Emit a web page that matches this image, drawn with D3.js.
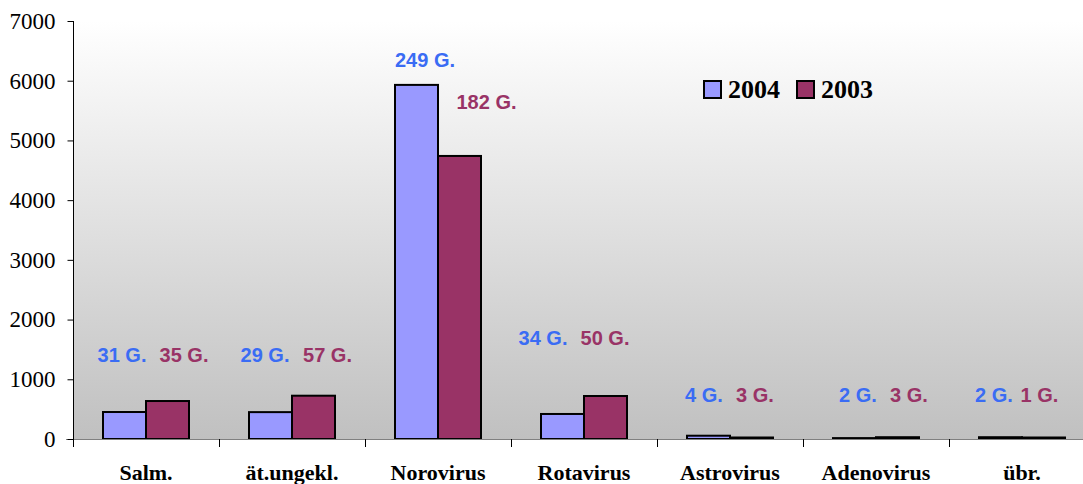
<!DOCTYPE html>
<html>
<head>
<meta charset="utf-8">
<script src="https://cdn.jsdelivr.net/npm/d3@7"></script>
<style>
  html, body { margin: 0; padding: 0; background: #fff; }
  svg { display: block; }
</style>
</head>
<body>
<svg id="chart" width="1083" height="484"></svg>
<script>
// Categories and series
const categories = ["Salm.", "ät.ungekl.", "Norovirus", "Rotavirus", "Astrovirus", "Adenovirus", "übr."];
const seriesNames = ["2004", "2003"];
const cases2004 = [452, 450, 5930, 419, 55, 15, 30];
const cases2003 = [636, 725, 4740, 720, 25, 30, 25];
// Number of outbreaks ("G.") per category
const outbreaks2004 = [31, 29, 249, 34, 4, 2, 2];
const outbreaks2003 = [35, 57, 182, 50, 3, 3, 1];
const yTicks = [0, 1000, 2000, 3000, 4000, 5000, 6000, 7000];

// Placement of the outbreak labels relative to each category centre (px)
const labelLayout = [
  { dx: [-24, 38],   dy: [355, 355] },
  { dx: [-27, 35.5], dy: [355, 355] },
  { dx: [-13, 48.5], dy: [59.5, 101.5] },
  { dx: [-41, 21],   dy: [337.5, 337.5] },
  { dx: [-26, 25],   dy: [395, 395] },
  { dx: [-18, 33],   dy: [395, 395] },
  { dx: [-28, 17.5], dy: [395, 395] }
];

const colors = { "2004": "#9999ff", "2003": "#993366" };
const labelColors = { "2004": "#3a6cf4", "2003": "#993366" };

const svg = d3.select("#chart");
const plotLeft = 73, plotRight = 1095, plotTop = 21, plotBottom = 439;

const x = d3.scaleBand().domain(categories).range([plotLeft, plotRight])
  .paddingInner(0.411).paddingOuter(0.2055);
const xs = d3.scaleBand().domain(seriesNames).range([0, x.bandwidth()]);
const y = d3.scaleLinear().domain([0, 7000]).range([plotBottom, plotTop]);

// Plot background: vertical gradient white -> grey
const defs = svg.append("defs");
const grad = defs.append("linearGradient").attr("id", "bg")
  .attr("x1", 0).attr("y1", 0).attr("x2", 0).attr("y2", 1);
grad.append("stop").attr("offset", "0%").attr("stop-color", "#ffffff");
grad.append("stop").attr("offset", "100%").attr("stop-color", "#c0c0c0");
svg.append("rect").attr("x", plotLeft).attr("y", plotTop)
  .attr("width", plotRight - plotLeft).attr("height", plotBottom - plotTop)
  .attr("fill", "url(#bg)");

// Bars
const rows = categories.map((c, i) => ({ cat: c, vals: [
  { s: "2004", v: cases2004[i] }, { s: "2003", v: cases2003[i] }
] }));

const groups = svg.append("g").selectAll("g").data(rows).join("g")
  .attr("transform", d => `translate(${x(d.cat)},0)`);
groups.selectAll("rect").data(d => d.vals).join("rect")
  .attr("x", d => xs(d.s))
  .attr("y", d => y(d.v))
  .attr("width", xs.bandwidth())
  .attr("height", d => y(0) - y(d.v))
  .attr("fill", d => colors[d.s])
  .attr("stroke", "#000")
  .attr("stroke-width", 2);

// X axis (grey baseline, ticks between categories)
const xAxisG = svg.append("g");
xAxisG.append("line").attr("x1", plotLeft - 7).attr("x2", plotRight)
  .attr("y1", plotBottom + 0.5).attr("y2", plotBottom + 0.5)
  .attr("stroke", "#808080").attr("stroke-width", 1);
const boundaries = categories.map(c => x(c) - x.step() * x.paddingInner() / 2).concat([plotRight]);
xAxisG.selectAll("line.tick").data(boundaries).join("line").attr("class", "tick")
  .attr("x1", d => Math.round(d) + 0.5).attr("x2", d => Math.round(d) + 0.5)
  .attr("y1", plotBottom).attr("y2", plotBottom + 8)
  .attr("stroke", "#000");
xAxisG.selectAll("text").data(categories).join("text")
  .attr("x", d => x(d) + x.bandwidth() / 2)
  .attr("y", 480)
  .attr("text-anchor", "middle")
  .attr("font-family", "'Liberation Serif', 'Times New Roman', serif")
  .attr("font-weight", "bold")
  .attr("font-size", 22)
  .text(d => d);

// Y axis
const yAxis = d3.axisLeft(y).tickValues(yTicks).tickSize(6).tickPadding(12).tickFormat(d3.format("d"));
const yAxisG = svg.append("g").attr("transform", `translate(${plotLeft + 0.5},0)`).call(yAxis);
yAxisG.select(".domain").attr("d", `M0,${plotTop}V${plotBottom}`).attr("stroke", "#000");
yAxisG.selectAll(".tick line").attr("stroke", "#000");
yAxisG.selectAll(".tick text")
  .attr("font-family", "'Liberation Serif', 'Times New Roman', serif")
  .attr("font-size", 23)
  .attr("fill", "#000");

// Outbreak labels
const labelG = svg.append("g")
  .attr("font-family", "'Liberation Sans', Arial, sans-serif")
  .attr("font-weight", "bold")
  .attr("font-size", 20);
categories.forEach((c, i) => {
  const cx = x(c) + x.bandwidth() / 2;
  const lay = labelLayout[i];
  [[outbreaks2004[i], "2004"], [outbreaks2003[i], "2003"]].forEach(([n, s], k) => {
    labelG.append("text")
      .attr("x", cx + lay.dx[k])
      .attr("y", lay.dy[k])
      .attr("dy", "0.35em")
      .attr("text-anchor", "middle")
      .attr("fill", labelColors[s])
      .text(`${n} G.`);
  });
});

// Legend
const legend = svg.append("g").attr("transform", "translate(704,81)");
const legendItems = legend.selectAll("g").data(seriesNames).join("g")
  .attr("transform", (d, i) => `translate(${i * 93},0)`);
legendItems.append("rect").attr("width", 17).attr("height", 17)
  .attr("fill", d => colors[d]).attr("stroke", "#000").attr("stroke-width", 2);
legendItems.append("text").attr("x", 24).attr("y", 17)
  .attr("font-family", "'Liberation Serif', 'Times New Roman', serif")
  .attr("font-weight", "bold").attr("font-size", 26)
  .text(d => d);
</script>
</body>
</html>
